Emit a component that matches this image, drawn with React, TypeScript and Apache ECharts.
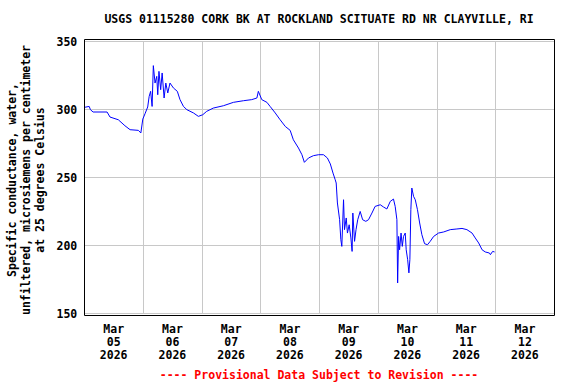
import React, { useEffect, useRef } from "react";
import * as echarts from "echarts";

// Hours since Mar 05 2026 00:00
const hours = [
  0, 2.0, 2.5, 3.6, 9.3, 10.5, 13.9, 16.6, 18.7, 22.1, 23.1, 23.9, 24.8, 25.9, 26.5, 27.1, 27.7,
  28.2, 28.9, 29.6, 30.0, 30.5, 31.2, 31.8, 32.6, 33.3, 34.1, 35.0, 36.4, 38.0, 39.1, 40.5, 41.9,
  44.6, 46.6, 48.4, 50.0, 52.7, 56.8, 60.9, 65.0, 68.4, 70.5, 71.1, 72.5, 74.6, 75.9, 78.0, 80.0,
  82.1, 84.1, 85.4, 87.5, 88.9, 89.9, 91.6, 93.6, 95.7, 97.7, 99.3, 100.5, 101.6, 102.5, 102.9,
  103.4, 104.3, 104.8, 105.2, 105.9, 106.3, 107.0, 107.5, 108.2, 108.9, 109.4, 109.7, 110.4, 111.0,
  111.7, 112.7, 113.7, 115.0, 116.1, 117.5, 118.8, 120.9, 122.2, 123.6, 125.0, 126.3, 127.0, 127.7,
  128.0, 128.4, 128.8, 129.4, 129.9, 130.4, 131.1, 131.5, 132.1, 132.6, 133.0, 133.4, 133.8, 134.5,
  135.2, 136.1, 137.0, 137.9, 139.0, 140.2, 141.3, 142.7, 144.7, 146.8, 149.5, 152.2, 154.3, 156.3,
  158.4, 159.7, 161.1, 162.5, 163.8, 165.5, 165.9, 166.8, 167.6,
];

// Specific conductance, microsiemens per centimeter at 25 °C
const conductance = [
  301.7, 302.4, 300, 298.3, 298.3, 294.6, 292.6, 288.2, 285.3, 284.8, 282.9, 293.1, 297, 302, 309.8,
  313.5, 302.4, 332.4, 319.6, 324.5, 311, 328.2, 314.7, 327, 308.6, 319.6, 312.3, 319.6, 316, 313.5,
  307.4, 302.4, 300, 297.6, 295.1, 296.3, 298.8, 301.2, 302.9, 305.4, 306.6, 307.4, 308.6, 313.5,
  307.4, 305.4, 302.4, 297.6, 292.6, 287.7, 284.8, 277.9, 271.8, 266.9, 261.3, 264.5, 266.2, 266.9,
  266.9, 264.5, 260.1, 253.4, 248.5, 246.1, 231.4, 219.1, 204.4, 199.5, 233.8, 211.8, 220.4, 209.3,
  215.4, 205.7, 195.8, 224, 203.2, 211.8, 219.1, 225.2, 219.1, 217.9, 219.1, 224, 228.9, 230.1,
  228.5, 227, 232.6, 234.3, 228.9, 219.1, 172.6, 206.8, 197, 209.3, 199.5, 206.8, 209.3, 197, 189.7,
  180, 189.7, 226.5, 242.4, 236.3, 233.8, 226.5, 216.7, 208.1, 201.5, 200.7, 203.2, 206.8, 209.3,
  210.1, 211.8, 212.3, 212.7, 211.8, 209.3, 205.7, 202, 197, 195.4, 194.6, 193.4, 195.8, 195.4,
];

const dayLabels = [
  "Mar\n05\n2026",
  "Mar\n06\n2026",
  "Mar\n07\n2026",
  "Mar\n08\n2026",
  "Mar\n09\n2026",
  "Mar\n10\n2026",
  "Mar\n11\n2026",
  "Mar\n12\n2026",
];

const yTicks = [150, 200, 250, 300, 350];

const titleText = "USGS 01115280 CORK BK AT ROCKLAND SCITUATE RD NR CLAYVILLE, RI";
const yTitle = "Specific conductance, water,\nunfiltered, microsiemens per centimeter\nat 25 degrees Celsius";
const footer = "---- Provisional Data Subject to Revision ----";

const FONT = "'DejaVu Sans Mono', 'Liberation Mono', monospace";

export default function App() {
  const ref = useRef<HTMLDivElement>(null);
  useEffect(() => {
    if (!ref.current) return;
    const chart = echarts.init(ref.current, undefined, { renderer: "svg" });
    const left = 84.3;
    const right = 554.3;
    const top = 41.7;
    const bottom = 313.7;
    chart.setOption({
      animation: false,
      backgroundColor: "#ffffff",
      grid: { left, right: 576 - right, top, bottom: 384 - bottom, containLabel: false },
      xAxis: [
        {
          type: "value",
          position: "top",
          min: 0,
          max: 192,
          interval: 24,
          axisLine: { show: false },
          axisTick: { show: false },
          axisLabel: { show: false },
          splitLine: { show: true, lineStyle: { color: "#c8c8c8", width: 1 } },
        },
        {
          type: "category",
          position: "bottom",
          data: dayLabels,
          boundaryGap: true,
          axisLine: { show: false },
          axisTick: { show: false },
          splitLine: { show: false },
          axisLabel: {
            interval: 0,
            margin: 9,
            fontFamily: FONT,
            fontWeight: "bold",
            fontSize: 11.5,
            lineHeight: 13,
            color: "#000",
          },
        },
      ],
      yAxis: {
        type: "value",
        min: yTicks[0],
        max: yTicks[yTicks.length - 1],
        interval: 50,
        axisLine: { show: false },
        axisTick: { show: false },
        splitLine: { show: true, lineStyle: { color: "#c8c8c8", width: 1 } },
        axisLabel: {
          margin: 7,
          fontFamily: FONT,
          fontWeight: "bold",
          fontSize: 11.5,
          color: "#000",
        },
      },
      series: [
        {
          type: "line",
          xAxisIndex: 0,
          data: hours.map((h, i) => [h, conductance[i]]),
          showSymbol: false,
          symbol: "none",
          lineStyle: { color: "#0000ff", width: 1 },
          z: 3,
        },
      ],
      graphic: [
        {
          type: "rect",
          shape: { x: 84.5, y: 39.5, width: 470, height: 276 },
          style: { fill: "none", stroke: "#000", lineWidth: 1 },
          z: 10,
          silent: true,
        },
        {
          type: "text",
          x: 319,
          y: 19,
          style: {
            text: titleText,
            fontFamily: FONT,
            fontWeight: "bold",
            fontSize: 11.5,
            fill: "#000",
            align: "center",
            verticalAlign: "middle",
          },
        },
        {
          type: "text",
          x: 26,
          y: 180,
          rotation: Math.PI / 2,
          style: {
            text: yTitle,
            fontFamily: FONT,
            fontWeight: "bold",
            fontSize: 11.5,
            lineHeight: 14,
            fill: "#000",
            align: "center",
            verticalAlign: "middle",
          },
        },
        {
          type: "text",
          x: 319,
          y: 375,
          style: {
            text: footer,
            fontFamily: FONT,
            fontWeight: "bold",
            fontSize: 11.5,
            fill: "#ff0000",
            align: "center",
            verticalAlign: "middle",
          },
        },
      ],
    });
    return () => chart.dispose();
  }, []);
  return (
    <div
      ref={ref}
      style={{ position: "fixed", left: 0, top: 0, width: 576, height: 384 }}
    />
  );
}
